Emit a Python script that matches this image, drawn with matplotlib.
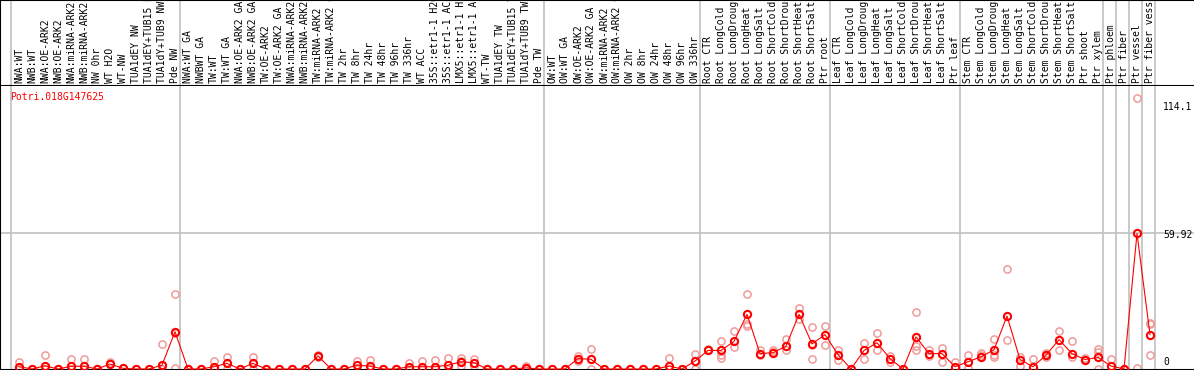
"""Expression profile of Potri.018G147625 across sample groups."""

import numpy as np
import matplotlib
matplotlib.use("Agg")
import matplotlib.pyplot as plt
from matplotlib import transforms

GENE = "Potri.018G147625"

# sample names, in drawing order
LABELS = [
    # group 1
    "NWA:WT", "NWB:WT", "NWA:OE-ARK2", "NWB:OE-ARK2", "NWA:miRNA-ARK2",
    "NWB:miRNA-ARK2", "NW 0hr", "WT H2O", "WT-NW", "TUA1dEY NW",
    "TUA1dEY+TUB15 NW", "TUA1dY+TUB9 NW", "Pde NW",
    # group 2
    "NWA:WT GA", "NWBWT GA", "TW:WT", "TW:WT GA", "NWA:OE-ARK2 GA",
    "NWB:OE-ARK2 GA", "TW:OE-ARK2", "TW:OE-ARK2 GA", "NWA:miRNA-ARK2 GA",
    "NWB:miRNA-ARK2 GA", "TW:miRNA-ARK2", "TW:miRNA-ARK2 GA", "TW 2hr",
    "TW 8hr", "TW 24hr", "TW 48hr", "TW 96hr", "TW 336hr", "WT ACC",
    "35S::etr1-1 H2O", "35S::etr1-1 ACC", "LMX5::etr1-1 H2O",
    "LMX5::etr1-1 ACC", "WT-TW", "TUA1dEY TW", "TUA1dEY+TUB15 TW",
    "TUA1dY+TUB9 TW", "Pde TW",
    # group 3
    "OW:WT", "OW:WT GA", "OW:OE-ARK2", "OW:OE-ARK2 GA", "OW:miRNA-ARK2",
    "OW:miRNA-ARK2 GA", "OW 2hr", "OW 8hr", "OW 24hr", "OW 48hr", "OW 96hr",
    "OW 336hr",
    # root
    "Root CTR", "Root LongCold", "Root LongDrought", "Root LongHeat",
    "Root LongSalt", "Root ShortCold", "Root ShortDrought", "Root ShortHeat",
    "Root ShortSalt", "Ptr root",
    # leaf
    "Leaf CTR", "Leaf LongCold", "Leaf LongDrought", "Leaf LongHeat",
    "Leaf LongSalt", "Leaf ShortCold", "Leaf ShortDrought", "Leaf ShortHeat",
    "Leaf ShortSalt", "Ptr leaf",
    # stem
    "Stem CTR", "Stem LongCold", "Stem LongDrought", "Stem LongHeat",
    "Stem LongSalt", "Stem ShortCold", "Stem ShortDrought", "Stem ShortHeat",
    "Stem ShortSalt", "Ptr shoot", "Ptr xylem",
    # single samples
    "Ptr phloem", "Ptr fiber", "Ptr vessel", "Ptr fiber vessel",
]

GROUP_SIZES = [13, 28, 12, 10, 10, 11, 1, 1, 1, 1]

MEANS = [
    1.0, 0, 1.4, 0, 1.2, 1.2, 0, 2.2, 0.3, 0, 0, 1.7, 16.5,
    0, 0, 1.0, 2.5, 0, 2.5, 0, 0, 0, 0, 5.8, 0, 0, 1.7, 1.3, 0, 0, 1.0,
    1.0, 1.0, 1.7, 3.2, 2.8, 0, 0, 0, 0.5, 0,
    0, 0, 4.6, 4.3, 0, 0, 0, 0, 0, 1.3, 0, 3.5,
    8.2, 8.2, 12.2, 24.2, 6.8, 7.2, 10.1, 24.2, 11.1, 15.2,
    6.4, 0, 8.2, 11.6, 4.6, 0, 14.2, 6.8, 6.8, 1.0,
    3.2, 5.4, 8.5, 23.4, 4.2, 1.0, 6.1, 13.0, 6.8, 4.2, 5.1,
    1.3, 0, 59.92, 15.2,
]

REPLICATES = [
    [2.9, 0.2], [0], [6.0, 0], [0], [4.3, 0], [4.3, 0], [0], [3.0, 2.5],
    [0.5], [0], [0], [10.9, 0], [33.3, 16.0, 0.3],
    [0], [0], [3.5, 0], [5.1, 0], [0], [5.1, 0], [0], [0], [0], [0],
    [6.2, 5.5], [0], [0], [3.6, 0], [4.0, 0], [0], [0], [2.5, 0.5],
    [3.6, 0], [4.0, 0], [4.7, 0], [4.7, 1.3, 3.5], [4.3, 1.5, 2.8],
    [0], [0], [0], [1.3, 0], [0],
    [0], [0], [5.8, 3.5], [8.7, 0], [0], [0], [0], [0], [0], [4.7, 0],
    [0], [6.8, 0],
    [9.0, 8.2], [12.6, 6.0, 4.9], [16.9, 9.7], [33.3, 19.8, 18.8],
    [8.2, 6.1], [8.5, 7.5], [13.3, 8.5], [27.1, 22.0],
    [18.4, 4.6, 10.4], [18.8, 10.4],
    [8.2, 4.2], [0], [11.6, 4.3], [16.0, 8.5], [5.8, 2.9], [0],
    [25.2, 10.0, 8.5], [8.5, 5.8], [9.4, 3.2], [3.2],
    [6.4, 0.3], [7.2, 6.4], [13.3, 6.1, 5.4], [44.2, 12.9], [5.4, 1.3],
    [4.3], [7.2, 5.4], [16.6, 8.5], [12.2, 5.4], [4.7], [9.0, 7.5, 0],
    [4.3], [0], [114.1, 0.3], [20.5, 19.8, 6.1],
]

W, H = 1194, 370
HEADER = 86          # px height of the label strip
X0, DX = 19, 13      # px of the first sample and the step between samples
PX_PER_UNIT = 135.5  # px per unit of the piecewise y scale

RED = "#ff0000"
PINK = "#f09a9a"
GRID = "#c0c0c0"
FONT = "DejaVu Sans Mono"


def main():
    n = len(LABELS)
    x = np.arange(n)
    y_mid = max(MEANS)
    y_top = max(max(r) for r in REPLICATES)

    def fwd(v):
        v = np.asarray(v, dtype=float)
        return np.where(v <= y_mid, v / y_mid, 1 + (v - y_mid) / (y_top - y_mid))

    def inv(t):
        t = np.asarray(t, dtype=float)
        return np.where(t <= 1, t * y_mid, y_mid + (t - 1) * (y_top - y_mid))

    fig = plt.figure(figsize=(W / 100, H / 100), dpi=100)
    ax_h = fig.add_axes([0, 1 - HEADER / H, 1, HEADER / H])
    ax = fig.add_axes([0, 0, 1, 1 - HEADER / H])

    xlim = (-X0 / DX, (W - X0) / DX)
    for a in (ax_h, ax):
        a.set_xlim(*xlim)
        a.set_xticks([])
        a.set_yticks([])
        a.spines["right"].set_visible(False)
        for s in ("left", "top", "bottom"):
            a.spines[s].set_linewidth(1.5)
            a.spines[s].set_color("black")
    ax.spines["top"].set_visible(False)
    ax_h.set_ylim(0, 1)

    # group separators
    edges = np.concatenate([[0], np.cumsum(GROUP_SIZES)]) - 0.6
    for e in edges:
        ax_h.axvline(e, color=GRID, lw=1.2, zorder=0)
        ax.axvline(e, color=GRID, lw=1.2, zorder=0)

    # sample labels
    tr = transforms.blended_transform_factory(ax_h.transData, ax_h.transAxes)
    for i, lab in enumerate(LABELS):
        ax_h.text(i, 3 / HEADER, lab, transform=tr, rotation=90,
                  ha="center", va="bottom", fontsize=7, family=FONT,
                  color="black", clip_on=False)

    # expression plot
    ax.set_yscale("function", functions=(fwd, inv))
    t_bot = -1 / PX_PER_UNIT
    t_top = t_bot + (H - HEADER) / PX_PER_UNIT
    ax.set_ylim(float(inv(t_bot)), float(inv(t_top)))
    ax.axhline(y_mid, color=GRID, lw=1.2, zorder=0)

    rx = [i for i, r in enumerate(REPLICATES) for _ in r]
    ry = [v for r in REPLICATES for v in r]
    ax.plot(rx, ry, "o", ms=5.2, mfc="none", mec=PINK, mew=1.1, zorder=2)
    ax.plot(x, MEANS, "-", color=RED, lw=0.8, zorder=3)
    ax.plot(x, MEANS, "o", ms=5.2, mfc="none", mec=RED, mew=1.5, zorder=4)

    # value labels on the right
    lx = (1163 - X0) / DX
    for val, txt, dy in [(y_top, f"{y_top:g}", -9), (y_mid, f"{y_mid:g}", -2),
                         (0, "0", 7)]:
        off = transforms.offset_copy(ax.transData, fig=fig, y=dy, units="dots")
        ax.text(lx, val, txt, transform=off, ha="left", va="center",
                fontsize=7, family=FONT, color="black", clip_on=False)

    fig.text(10 / W, 1 - 97 / H, GENE, ha="left", va="center", fontsize=7,
             family=FONT, color=RED)

    fig.savefig("out.png", dpi=100)
    plt.close(fig)


if __name__ == "__main__":
    main()
